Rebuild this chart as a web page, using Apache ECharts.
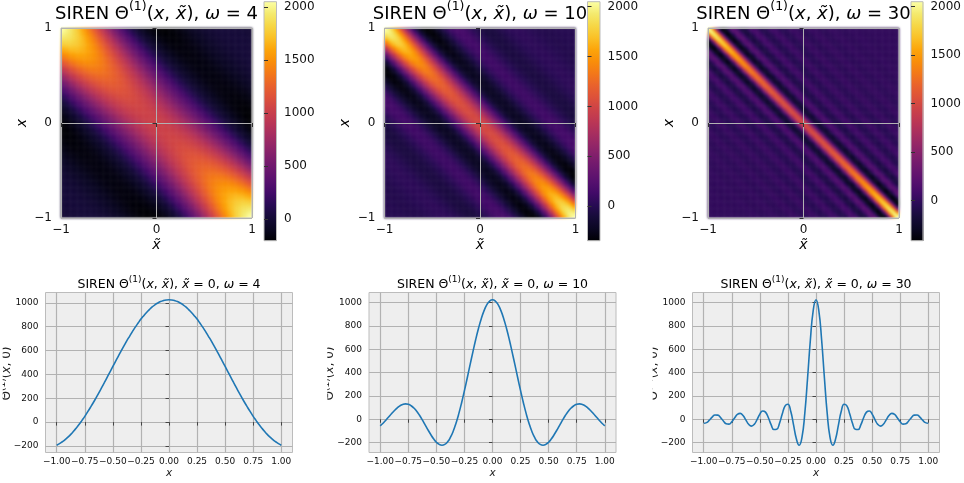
<!DOCTYPE html>
<html>
<head>
<meta charset="utf-8">
<script src="https://cdn.jsdelivr.net/npm/echarts@6/dist/echarts.min.js"></script>
<style>
  html, body { margin: 0; padding: 0; background: #ffffff; }
  #stage { position: relative; width: 964px; height: 483px; }
  #maps, #chart { position: absolute; left: 0; top: 0; width: 964px; height: 483px; }
  /* the kernel maps are shown with smooth shading, like an interpolated image */
  #maps { filter: blur(1.2px); }
</style>
</head>
<body>
<div id="stage">
  <div id="maps"></div>
  <div id="chart"></div>
</div>
<script>
// Θ(x, 0) profile against the separation |x − x̃|, sampled every 0.025 from 0 to 2
const profile4 = [
  1025, 1023, 1018, 1010, 998, 983, 965, 943, 919, 892,
  863, 830, 796, 760, 721, 682, 640, 598, 555, 510,
  466, 421, 377, 332, 288, 245, 203, 162, 123, 85,
  48, 14, -19, -49, -77, -103, -126, -147, -165, -181,
  -194, -205, -213, -218, -222, -223, -221, -218, -213, -206,
  -197, -186, -174, -161, -147, -131, -116, -99, -82, -65,
  -48, -31, -14, 3, 19, 34, 48, 62, 74, 86,
  96, 105, 113, 119, 124, 128, 131, 132, 131, 130, 127
];
const profile10 = [
  1025, 1014, 983, 932, 863, 778, 682, 576, 466, 354,
  245, 142, 48, -34, -103, -156, -194, -216, -223, -216,
  -197, -168, -131, -91, -48, -5, 34, 68, 96, 116,
  128, 132, 127, 115, 96, 73, 47, 19, -8, -34,
  -56, -73, -86, -92, -93, -88, -78, -64, -46, -26,
  -5, 15, 33, 49, 61, 69, 73, 71, 66, 57,
  44, 30, 14, -3, -18, -33, -44, -53, -58, -59,
  -57, -51, -43, -32, -19, -5, 8, 21, 32, 41, 47
];
const profile30 = [
  1025, 932, 682, 354, 48, -156, -223, -168, -48, 68,
  128, 115, 47, -34, -86, -88, -46, 15, 61, 71,
  44, -3, -44, -59, -43, -5, 32, 50, 41, 11,
  -22, -42, -39, -15, 14, 35, 36, 18, -8, -29,
  -34, -21, 3, 24, 31, 22, 2, -19, -28, -23,
  -5, 14, 25, 23, 8, -10, -22, -23, -11, 6,
  19, 22, 13, -3, -16, -21, -14, 0, 13, 20,
  15, 3, -11, -18, -16, -5, 8, 17, 16, 7, -5
];
const omegas = [4, 10, 30];
const heatTicks = [-1, 0, 1];
const barTicks = [0, 500, 1000, 1500, 2000];
const sliceXTicks = [-1, -0.75, -0.5, -0.25, 0, 0.25, 0.5, 0.75, 1];
const sliceYTicks = [-200, 0, 200, 400, 600, 800, 1000];

// grid of sample positions on [-1, 1]
const STEP = 0.025;
const sampleX = Array.from({ length: profile4.length }, (_, i) => Math.round((-1 + i * STEP) * 1000) / 1000);

const FONT = '"DejaVu Sans", "Liberation Sans", sans-serif';
const EDGE = '#bcbcbc';
const GRIDC = '#b2b2b2';
const LINE = '#1f77b4';
const INFERNO = ['#000004', '#0a0722', '#160b39', '#280b54', '#420a68', '#57106e', '#6a176e',
  '#7e1e6c', '#932667', '#a82e5f', '#bc3754', '#cc4248', '#dd513a', '#e9622c', '#f37819',
  '#f98e09', '#fca50a', '#fac127', '#f6d746', '#f4ea6e', '#fcffa4'];

const LAYOUT = {
  heat: { left: [61, 384.5, 708], top: 28, w: 191, h: 190 },
  bar: { left: [264, 587.5, 911], top: 1.7, w: 12.5, h: 239 },
  slice: { left: [45.5, 369, 692.5], top: 292.5, w: 247, h: 160 }
};

const profiles = [profile4, profile10, profile30];
const N = sampleX.length;
const mid = (N - 1) / 2;

// kernel map: profile at |x + x̃| weighted by (1 − x̃·x) in plotted coordinates
function buildField(profile) {
  const cells = [];
  for (let i = 0; i < N; i++) {
    for (let j = 0; j < N; j++) {
      const w = 1 - sampleX[i] * sampleX[j];
      cells.push([i, j, Math.round(w * profile[Math.abs(i + j - (N - 1))])]);
    }
  }
  return cells;
}
// slice at x̃ = 0
function buildSlice(profile) {
  return sampleX.map((x, k) => [x, profile[Math.abs(k - mid)]]);
}

const signed = v => (v < 0 ? '\u2212' + Math.abs(v) : String(v));
const signed2 = v => (v < 0 ? '\u2212' : '') + Math.abs(v).toFixed(2);

// map layer (blurred) and main layer
const M = { grid: [], xAxis: [], yAxis: [], series: [], visualMap: [] };
const C = { grid: [], xAxis: [], yAxis: [], series: [], graphic: [] };
const push = (arr, o) => arr.push(o) - 1;
const cats = sampleX.map(String);

const tickFont = (size, margin) => ({ fontSize: size, fontFamily: FONT, color: '#111', margin: margin });

function mathText(main, size, lh, supSize, supLh) {
  return {
    text: main,
    fill: '#000', fontSize: size, fontFamily: FONT, lineHeight: lh,
    align: 'center', verticalAlign: 'middle',
    rich: {
      s: { fontSize: supSize, fontFamily: FONT, lineHeight: supLh, verticalAlign: 'top' },
      i: { fontSize: size, fontFamily: FONT, fontStyle: 'italic', lineHeight: lh }
    }
  };
}

for (let p = 0; p < 3; p++) {
  const profile = profiles[p];
  const field = buildField(profile);
  let lo = Infinity, hi = -Infinity;
  for (const c of field) { if (c[2] < lo) lo = c[2]; if (c[2] > hi) hi = c[2]; }

  const H = LAYOUT.heat, B = LAYOUT.bar, S = LAYOUT.slice;
  const hRect = { left: H.left[p], top: H.top, width: H.w, height: H.h };

  // heat map cells
  const gH = push(M.grid, Object.assign({ containLabel: false }, hRect));
  const xH = push(M.xAxis, { type: 'category', gridIndex: gH, data: cats, show: false });
  const yH = push(M.yAxis, { type: 'category', gridIndex: gH, data: cats, show: false });
  const sH = push(M.series, {
    type: 'heatmap', xAxisIndex: xH, yAxisIndex: yH, data: field,
    progressive: 0, emphasis: { disabled: true }, itemStyle: { borderWidth: 0 }
  });
  M.visualMap.push({
    type: 'continuous', show: false, seriesIndex: sH, dimension: 2,
    min: lo, max: hi, inRange: { color: INFERNO }
  });

  // frame, ticks and zero lines over the map
  const gO = push(C.grid, Object.assign({ containLabel: false, show: true, borderColor: EDGE, borderWidth: 1, backgroundColor: 'transparent' }, hRect));
  push(C.xAxis, {
    type: 'value', gridIndex: gO, min: -1, max: 1, interval: 1,
    axisLine: { show: false },
    axisTick: { show: true, length: 4, lineStyle: { color: '#333' }, customValues: heatTicks },
    axisLabel: Object.assign(tickFont(12, 6), { formatter: signed, customValues: heatTicks }),
    splitLine: { show: true, lineStyle: { color: GRIDC, width: 1 } }
  });
  push(C.yAxis, {
    type: 'value', gridIndex: gO, min: -1, max: 1, interval: 1,
    axisLine: { show: false },
    axisTick: { show: true, length: 4, lineStyle: { color: '#333' }, customValues: heatTicks },
    axisLabel: Object.assign(tickFont(12, 9), { formatter: signed, customValues: heatTicks }),
    splitLine: { show: true, lineStyle: { color: GRIDC, width: 1 } }
  });

  // colour bar
  C.graphic.push({
    type: 'rect', z: -1,
    shape: { x: B.left[p], y: B.top, width: B.w, height: B.h },
    style: {
      fill: {
        type: 'linear', x: 0, y: 1, x2: 0, y2: 0,
        colorStops: INFERNO.map((c, k) => ({ offset: k / (INFERNO.length - 1), color: c }))
      }
    }
  });
  const gB = push(C.grid, { containLabel: false, left: B.left[p], top: B.top, width: B.w, height: B.h, show: true, borderColor: EDGE, borderWidth: 1, backgroundColor: 'transparent' });
  push(C.xAxis, { type: 'value', gridIndex: gB, min: 0, max: 1, show: false });
  push(C.yAxis, {
    type: 'value', gridIndex: gB, position: 'right', min: lo, max: hi,
    minInterval: 500, maxInterval: 500,
    axisLine: { show: false },
    axisTick: { show: true, length: 4, lineStyle: { color: '#333' }, customValues: barTicks },
    axisLabel: Object.assign(tickFont(12, 7.5), { customValues: barTicks, formatter: signed }),
    splitLine: { show: false }
  });

  // slice plot
  const slice = buildSlice(profile);
  let sLo = Infinity, sHi = -Infinity;
  for (const d of slice) { if (d[1] < sLo) sLo = d[1]; if (d[1] > sHi) sHi = d[1]; }
  const padY = (sHi - sLo) * 0.05;
  const gL = push(C.grid, { containLabel: false, left: S.left[p], top: S.top, width: S.w, height: S.h, show: true, backgroundColor: '#eeeeee', borderColor: EDGE, borderWidth: 1 });
  const xL = push(C.xAxis, {
    type: 'value', gridIndex: gL, min: -1.1, max: 1.1, minInterval: 0.25, maxInterval: 0.25,
    axisLine: { show: false },
    axisTick: { show: true, length: 3.5, lineStyle: { color: '#444' }, customValues: sliceXTicks },
    axisLabel: Object.assign(tickFont(9, 4.5), { formatter: signed2, customValues: sliceXTicks }),
    splitLine: { show: true, lineStyle: { color: GRIDC, width: 1.2 } }
  });
  const yL = push(C.yAxis, {
    type: 'value', gridIndex: gL, min: sLo - padY, max: sHi + padY, minInterval: 200, maxInterval: 200,
    axisLine: { show: false },
    axisTick: { show: true, length: 3.5, lineStyle: { color: '#444' }, customValues: sliceYTicks },
    axisLabel: Object.assign(tickFont(9, 7), { formatter: signed, customValues: sliceYTicks }),
    splitLine: { show: true, lineStyle: { color: GRIDC, width: 1.2 } }
  });
  C.series.push({
    type: 'line', xAxisIndex: xL, yAxisIndex: yL, data: slice,
    showSymbol: false, smooth: true, clip: true,
    lineStyle: { color: LINE, width: 1.6 }, itemStyle: { color: LINE },
    emphasis: { disabled: true }
  });

  // titles and axis names
  const hc = H.left[p] + H.w / 2;
  C.graphic.push({
    type: 'text', x: hc, y: 14, z: 50,
    style: mathText('SIREN \u0398{s|(1)}({i|x}, {i|x\u0303}), {i|\u03c9} = ' + omegas[p], 18, 28, 12.5, 14)
  });
  C.graphic.push({
    type: 'text', x: hc, y: 245, z: 50,
    style: { text: 'x\u0303', fill: '#000', fontSize: 14, fontFamily: FONT, fontStyle: 'italic', align: 'center', verticalAlign: 'middle' }
  });
  C.graphic.push({
    type: 'text', x: H.left[p] - 39, y: H.top + H.h / 2, rotation: Math.PI / 2, z: 50,
    style: { text: 'x', fill: '#000', fontSize: 14, fontFamily: FONT, fontStyle: 'italic', align: 'center', verticalAlign: 'middle' }
  });

  const sc = S.left[p] + S.w / 2;
  C.graphic.push({
    type: 'text', x: sc, y: 285, z: 50,
    style: mathText('SIREN \u0398{s|(1)}({i|x}, {i|x\u0303}), {i|x\u0303} = 0, {i|\u03c9} = ' + omegas[p], 12.5, 20, 9, 10)
  });
  C.graphic.push({
    type: 'text', x: sc, y: 473, z: 50,
    style: { text: 'x', fill: '#222', fontSize: 10.5, fontFamily: FONT, fontStyle: 'italic', align: 'center', verticalAlign: 'middle' }
  });
  const labStyle = mathText('\u0398{s|(1)}({i|x}, 0)', 12, 16, 9, 9);
  labStyle.fill = '#222';
  C.graphic.push({
    type: 'text', x: S.left[p] - 39, y: S.top + S.h / 2 + 1, rotation: Math.PI / 2, z: 50,
    style: labStyle
  });
  // the neighbouring panel hides the outer part of the y label
  const cut = [42.8, 41.7, 39.8][p];
  C.graphic.push({
    type: 'rect', z: 100,
    shape: { x: S.left[p] - cut - 16, y: S.top, width: 16, height: S.h },
    style: { fill: '#ffffff' }
  });
}

const maps = echarts.init(document.getElementById('maps'), null, { renderer: 'canvas', width: 964, height: 483 });
maps.setOption({
  animation: false,
  backgroundColor: 'transparent',
  grid: M.grid, xAxis: M.xAxis, yAxis: M.yAxis,
  visualMap: M.visualMap, series: M.series
});

const chart = echarts.init(document.getElementById('chart'), null, { renderer: 'canvas', width: 964, height: 483 });
chart.setOption({
  animation: false,
  backgroundColor: 'transparent',
  textStyle: { fontFamily: FONT },
  grid: C.grid, xAxis: C.xAxis, yAxis: C.yAxis,
  series: C.series,
  graphic: { elements: C.graphic }
});
</script>
</body>
</html>
